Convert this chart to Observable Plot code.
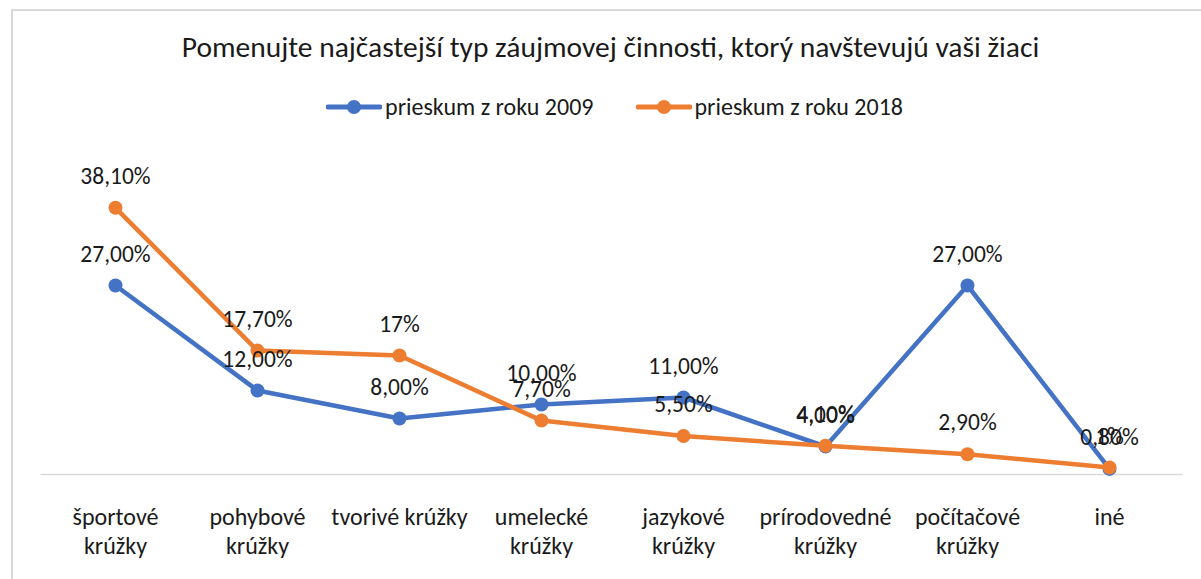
<!DOCTYPE html>
<html>
<head>
<meta charset="utf-8">
<script src="https://cdn.jsdelivr.net/npm/d3@7"></script>
<script src="https://cdn.jsdelivr.net/npm/@observablehq/plot@0.6"></script>
<style>
  html, body { margin: 0; padding: 0; background: #fff; }
  body { width: 1201px; height: 579px; overflow: hidden; position: relative;
         font-family: Carlito, Calibri, "Liberation Sans", sans-serif; color: #1a1a1a; }
  #frame { position: absolute; left: 11px; top: 9px; width: 1300px; height: 700px;
           border: 2px solid #d9d9d9; box-sizing: border-box; }
  #title { position: absolute; left: 0; width: 1221px; top: 29px; text-align: center;
           font-size: 29.5px; line-height: 36px; white-space: nowrap; }
  #legend { position: absolute; top: 93px; left: 0; width: 1229px; display: flex;
            justify-content: center; gap: 42px; font-size: 24px; line-height: 28px; }
  .item { display: flex; align-items: center; gap: 3px; }
  #chart { position: absolute; left: 0; top: 130px; }
</style>
</head>
<body>
<div id="frame"></div>
<div id="title">Pomenujte najčastejší typ záujmovej činnosti, ktorý navštevujú vaši žiaci</div>
<div id="legend"></div>
<div id="chart"></div>
<script>
const categories = ["športové krúžky","pohybové krúžky","tvorivé krúžky","umelecké krúžky","jazykové krúžky","prírodovedné krúžky","počítačové krúžky","iné"];
const categoryLabels = ["športové\nkrúžky","pohybové\nkrúžky","tvorivé krúžky","umelecké\nkrúžky","jazykové\nkrúžky","prírodovedné\nkrúžky","počítačové\nkrúžky","iné"];
const series = ["prieskum z roku 2009","prieskum z roku 2018"];
const colors = ["#4472C4","#ED7D31"];
const values2009 = [27, 12, 8, 10, 11, 4, 27, 0.8];
const labels2009 = ["27,00%","12,00%","8,00%","10,00%","11,00%","4,00%","27,00%","0,80%"];
const values2018 = [38.1, 17.7, 17, 7.7, 5.5, 4.1, 2.9, 1];
const labels2018 = ["38,10%","17,70%","17%","7,70%","5,50%","4,10%","2,90%","1%"];

const rows = [];
categories.forEach((c, i) => rows.push({cat: c, s: series[0], v: values2009[i], label: labels2009[i]}));
categories.forEach((c, i) => rows.push({cat: c, s: series[1], v: values2018[i], label: labels2018[i]}));
const axisRows = categories.map((c, i) => ({cat: c, label: categoryLabels[i]}));

// legend
const legend = document.getElementById("legend");
series.forEach((s, i) => {
  const item = document.createElement("div");
  item.className = "item";
  item.innerHTML = `<svg width="56" height="16"><line x1="2" x2="54" y1="8" y2="8" stroke="${colors[i]}" stroke-width="5" stroke-linecap="round"/><circle cx="28" cy="8" r="7" fill="${colors[i]}"/></svg><span>${s}</span>`;
  legend.appendChild(item);
});

const font = "Carlito, Calibri, 'Liberation Sans', sans-serif";
const chart = Plot.plot({
  width: 1201,
  height: 449,
  marginLeft: 40.6,
  marginRight: 18.6,
  marginTop: 29,
  marginBottom: 105,
  style: {fontFamily: font, background: "transparent", overflow: "visible"},
  x: {type: "point", domain: categories, padding: 0.5, axis: null},
  y: {domain: [0, 45], axis: null},
  color: {domain: series, range: colors},
  marks: [
    Plot.ruleY([0], {stroke: "#d9d9d9", strokeWidth: 1.5}),
    Plot.line(rows.filter(d => d.s === series[0]), {x: "cat", y: "v", stroke: "s", strokeWidth: 4.5, strokeLinecap: "round", strokeLinejoin: "round"}),
    Plot.dot(rows.filter(d => d.s === series[0]), {x: "cat", y: "v", fill: "s", r: 7}),
    Plot.line(rows.filter(d => d.s === series[1]), {x: "cat", y: "v", stroke: "s", strokeWidth: 4.5, strokeLinecap: "round", strokeLinejoin: "round"}),
    Plot.dot(rows.filter(d => d.s === series[1]), {x: "cat", y: "v", fill: "s", r: 7}),
    Plot.text(rows, {x: "cat", y: "v", text: "label", dy: -31.5, fontSize: 23.5, fill: "#1a1a1a"}),
    Plot.text(axisRows, {x: "cat", y: () => 0, text: "label", dy: 30.5, lineAnchor: "top", lineHeight: 1.2, fontSize: 24, fill: "#1a1a1a"})
  ]
});
document.getElementById("chart").appendChild(chart);
</script>
</body>
</html>
